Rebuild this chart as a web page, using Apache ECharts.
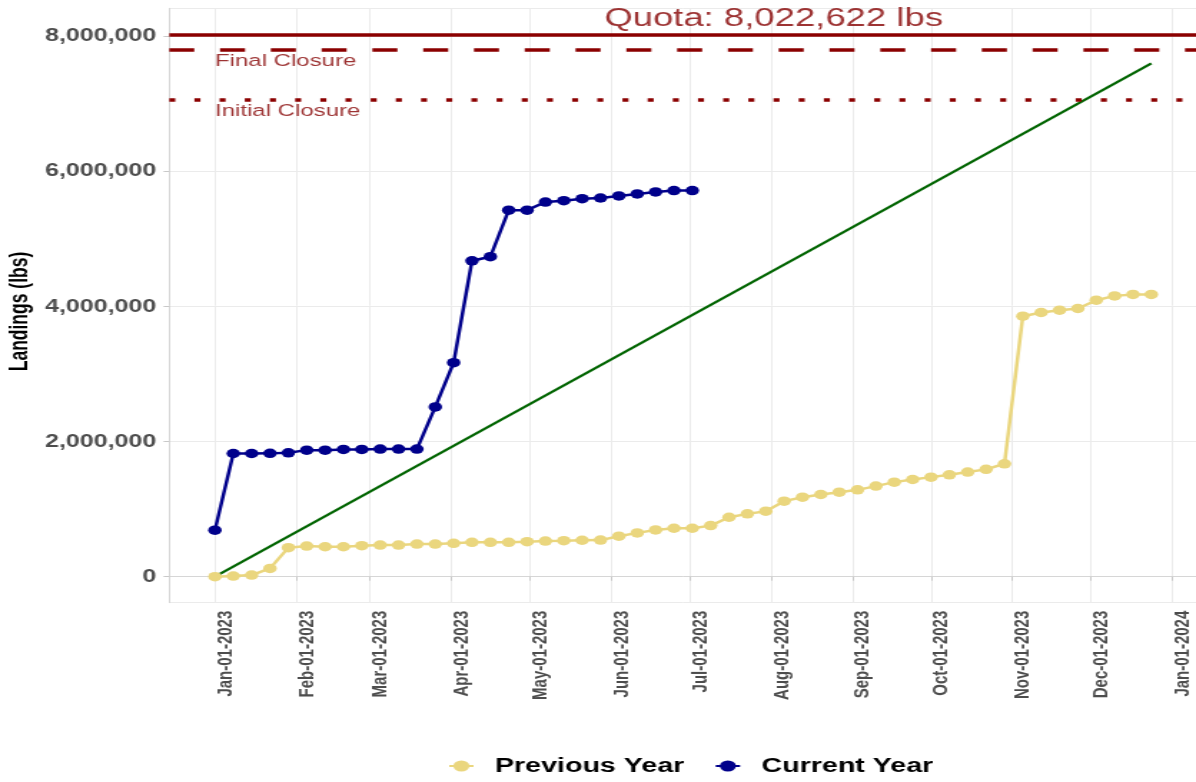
<!DOCTYPE html>
<html>
<head>
<meta charset="utf-8">
<script src="https://cdn.jsdelivr.net/npm/echarts@6/dist/echarts.min.js"></script>
<style>
  html, body { margin: 0; padding: 0; background: #fff; overflow: hidden; }
  /* the reference picture is stretched sideways, so the chart is drawn narrow and widened */
  #chart { width: 836px; height: 782px; transform: scaleX(1.4306); transform-origin: 0 0; }
</style>
</head>
<body>
<div id="chart"></div>
<script>
// weekly report dates
const weeks = [
  "2023-01-01", "2023-01-08", "2023-01-15", "2023-01-22", "2023-01-29",
  "2023-02-05", "2023-02-12", "2023-02-19", "2023-02-26",
  "2023-03-05", "2023-03-12", "2023-03-19", "2023-03-26",
  "2023-04-02", "2023-04-09", "2023-04-16", "2023-04-23", "2023-04-30",
  "2023-05-07", "2023-05-14", "2023-05-21", "2023-05-28",
  "2023-06-04", "2023-06-11", "2023-06-18", "2023-06-25",
  "2023-07-02", "2023-07-09", "2023-07-16", "2023-07-23", "2023-07-30",
  "2023-08-06", "2023-08-13", "2023-08-20", "2023-08-27",
  "2023-09-03", "2023-09-10", "2023-09-17", "2023-09-24",
  "2023-10-01", "2023-10-08", "2023-10-15", "2023-10-22", "2023-10-29",
  "2023-11-05", "2023-11-12", "2023-11-19", "2023-11-26",
  "2023-12-03", "2023-12-10", "2023-12-17", "2023-12-24"
];

const previousYear = [
  0, 10000, 25000, 123000, 430000, 454000, 444000, 444000, 459000,
  469000, 469000, 484000, 484000, 494000, 509000, 509000, 509000, 519000,
  528000, 533000, 540000, 542000, 600000, 649000, 693000, 718000,
  718000, 757000, 881000, 931000, 970000, 1119000, 1178000, 1218000, 1252000,
  1287000, 1342000, 1401000, 1440000, 1475000, 1510000, 1550000, 1590000, 1673000,
  3859000, 3914000, 3948000, 3973000, 4096000, 4160000, 4181000, 4181000
];

const currentYear = [
  690000, 1825000, 1825000, 1827000, 1835000, 1875000, 1875000, 1885000, 1885000,
  1890000, 1890000, 1890000, 2515000, 3170000, 4680000, 4740000, 5430000, 5430000,
  5550000, 5570000, 5600000, 5610000, 5640000, 5670000, 5700000, 5720000, 5720000
];

// straight target path
const targetDates = ["2023-01-01", "2023-12-24"];
const targetValues = [0, 7603000];

// quota and closure thresholds
const refNames = ["Quota: 8,022,622 lbs", "Final Closure", "Initial Closure"];
const refValues = [8022622, 7800000, 7060000];
const refLabelDates = ["2023-08-02", "2023-01-01", "2023-01-01"];

const monthNames = ["Jan", "Feb", "Mar", "Apr", "May", "Jun", "Jul", "Aug", "Sep", "Oct", "Nov", "Dec"];

const DAY = 86400000;
const xMin = new Date(2023, 0, 1).getTime() - 17.42 * DAY;
const xMax = new Date(2024, 0, 1).getTime() + 11.2 * DAY;

const font = "'Liberation Sans', Arial, sans-serif";
const darkRed = "#8B0000";

function fmtNumber(v) {
  return String(Math.round(v)).replace(/\B(?=(\d{3})+(?!\d))/g, ",");
}

function fmtDate(v) {
  const d = new Date(v);
  const dd = String(d.getDate()).padStart(2, "0");
  return monthNames[d.getMonth()] + "-" + dd + "-" + d.getFullYear();
}

const chart = echarts.init(document.getElementById("chart"));

chart.setOption({
  animation: false,
  textStyle: { fontFamily: font },
  grid: { left: 118.3, right: -4, top: 8.3, bottom: 179.3, containLabel: false, outerBoundsMode: "none" },
  legend: {
    data: ["Previous Year", "Current Year"],
    left: 313,
    top: 756,
    padding: 0,
    itemWidth: 17,
    itemHeight: 14,
    itemGap: 21,
    textStyle: { fontSize: 20, fontWeight: "bold", color: "#000", fontFamily: font, padding: [0, 0, 0, 10] }
  },
  xAxis: {
    type: "time",
    min: xMin,
    max: xMax,
    splitNumber: 13,
    minInterval: 28 * DAY,
    maxInterval: 31 * DAY,
    axisLine: { show: true, lineStyle: { color: "#d6d6d6", width: 1 } },
    axisTick: { show: true, length: 4, lineStyle: { color: "#c8c8c8" } },
    splitLine: { show: true, lineStyle: { color: "#ebebeb", width: 1 } },
    axisLabel: {
      rotate: 90,
      margin: 8,
      verticalAlign: "top",
      showMinLabel: false,
      showMaxLabel: false,
      color: "#4d4d4d",
      fontSize: 15,
      fontWeight: "bold",
      fontFamily: font,
      formatter: fmtDate
    }
  },
  yAxis: {
    type: "value",
    min: -385000,
    max: 8420000,
    splitNumber: 4,
    name: "Landings (lbs)",
    nameLocation: "middle",
    nameGap: 95,
    nameMoveOverlap: false,
    nameTextStyle: { fontSize: 17.5, fontWeight: "bold", color: "#000", fontFamily: font, padding: [0, 12, 0, 0] },
    axisLine: { show: true, lineStyle: { color: "#d6d6d6", width: 1 } },
    axisTick: { show: true, length: 4, lineStyle: { color: "#c8c8c8" } },
    splitLine: { show: true, lineStyle: { color: "#ebebeb", width: 1 } },
    axisLabel: {
      margin: 9,
      showMinLabel: false,
      showMaxLabel: false,
      color: "#4d4d4d",
      fontSize: 17.5,
      fontWeight: "bold",
      fontFamily: font,
      formatter: fmtNumber
    }
  },
  series: [
    {
      name: "Previous Year",
      type: "line",
      data: weeks.map((d, i) => [d, previousYear[i]]),
      symbol: "circle",
      symbolSize: 9.5,
      color: "#EAD67E",
      lineStyle: { width: 2.5, color: "#EAD67E" },
      itemStyle: { color: "#EAD67E" }
    },
    {
      name: "Current Year",
      type: "line",
      data: currentYear.map((v, i) => [weeks[i], v]),
      symbol: "circle",
      symbolSize: 9.5,
      color: "#00008B",
      lineStyle: { width: 2.5, color: "#00008B" },
      itemStyle: { color: "#00008B" }
    },
    {
      name: "Target",
      type: "line",
      data: targetDates.map((d, i) => [d, targetValues[i]]),
      showSymbol: false,
      silent: true,
      lineStyle: { width: 2.2, color: "#006400" },
      markLine: {
        silent: true,
        symbol: ["none", "none"],
        label: { show: false },
        data: [
          { yAxis: refValues[0], lineStyle: { color: darkRed, width: 3.5, type: "solid" } },
          { yAxis: refValues[1], lineStyle: { color: darkRed, width: 3.5, type: [17.5, 18] } },
          { yAxis: refValues[2], lineStyle: { color: darkRed, width: 3.5, type: [4.2, 13.4] } }
        ]
      }
    },
    {
      name: "Labels",
      type: "scatter",
      symbolSize: 0,
      silent: true,
      emphasis: { disabled: true },
      data: refNames.map((n, i) => ({
        value: [refLabelDates[i], refValues[i]],
        name: n,
        label: i === 0
          ? { align: "center", verticalAlign: "bottom", fontSize: 25.5, offset: [0, -3] }
          : { align: "left", verticalAlign: "top", fontSize: 16.8, offset: [0, 2.5] }
      })),
      label: {
        show: true,
        position: "inside",
        color: "#850000",
        fontFamily: font,
        formatter: (p) => p.name
      }
    }
  ]
});
</script>
</body>
</html>
